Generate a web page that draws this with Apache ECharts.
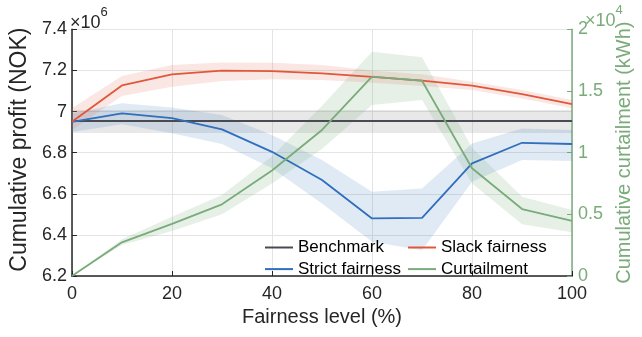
<!DOCTYPE html>
<html><head><meta charset="utf-8">
<script src="https://cdn.jsdelivr.net/npm/echarts@6/dist/echarts.min.js"></script>
<style>html,body{margin:0;padding:0;background:#fff}#c{width:642px;height:337px}</style>
</head><body><div id="c"></div>
<script>
const categories = ['0', '10', '20', '30', '40', '50', '60', '70', '80', '90', '100'];
const profitTicks = [6.2, 6.4, 6.6, 6.8, 7, 7.2, 7.4];
const curtailTicks = [0, 0.5, 1, 1.5, 2];

const benchmark     = [6.954, 6.954, 6.954, 6.954, 6.954, 6.954, 6.954, 6.954, 6.954, 6.954, 6.954];
const benchmarkLow  = [6.895, 6.895, 6.895, 6.895, 6.895, 6.895, 6.895, 6.895, 6.895, 6.895, 6.895];
const benchmarkHigh = [7.008, 7.008, 7.008, 7.008, 7.008, 7.008, 7.008, 7.008, 7.008, 7.008, 7.008];

const slack     = [6.95, 7.127, 7.181, 7.199, 7.197, 7.186, 7.169, 7.15, 7.126, 7.085, 7.036];
const slackLow  = [6.91, 7.075, 7.121, 7.148, 7.157, 7.153, 7.14, 7.124, 7.105, 7.064, 7.016];
const slackHigh = [7.016, 7.173, 7.226, 7.239, 7.237, 7.226, 7.2, 7.181, 7.145, 7.105, 7.056];

const strict     = [6.95, 6.991, 6.968, 6.913, 6.804, 6.667, 6.48, 6.483, 6.748, 6.848, 6.842];
const strictLow  = [6.9, 6.938, 6.894, 6.842, 6.724, 6.553, 6.366, 6.325, 6.658, 6.764, 6.759];
const strictHigh = [6.99, 7.04, 7.02, 6.983, 6.886, 6.764, 6.61, 6.626, 6.845, 6.918, 6.91];

const curtail     = [0, 0.273, 0.422, 0.581, 0.855, 1.184, 1.616, 1.583, 0.873, 0.543, 0.446];
const curtailLow  = [0, 0.251, 0.365, 0.5, 0.75, 1.03, 1.386, 1.427, 0.75, 0.42, 0.354];
const curtailHigh = [0, 0.297, 0.48, 0.657, 0.97, 1.38, 1.818, 1.773, 1.04, 0.643, 0.535];

const C = {bench:'#4a4a55', slack:'#e0583a', strict:'#2f6fbd', curt:'#7aab7a', axis:'#262626', grid:'#e4e4e4'};
const FONT = 'Liberation Sans, Arial, Helvetica, sans-serif';

function band(name, low, high, color, opacity, yAxisIndex){
  return [
    {type:'line', stack:name, yAxisIndex, data:low, symbol:'none', silent:true,
     lineStyle:{opacity:0}, z:1},
    {type:'line', stack:name, yAxisIndex, data:high.map((h,i)=>+(h-low[i]).toFixed(4)), symbol:'none', silent:true,
     lineStyle:{opacity:0}, areaStyle:{color, opacity}, z:1}
  ];
}
function line(name, data, color, yAxisIndex){
  return {type:'line', name, yAxisIndex, data, symbol:'none', showSymbol:false,
    lineStyle:{color, width:1.8}, itemStyle:{color}, z:5};
}

const chart = echarts.init(document.getElementById('c'), null, {renderer:'canvas'});
chart.setOption({
  animation:false,
  textStyle:{fontFamily:FONT},
  grid:{left:68, right:60, top:29.3, bottom:61},
  xAxis:{type:'category', data:categories, boundaryGap:false,
    name:'Fairness level (%)', nameLocation:'middle', nameGap:30,
    nameTextStyle:{fontSize:20, color:C.axis, fontFamily:FONT},
    axisLine:{lineStyle:{color:C.axis, width:1.5}},
    axisTick:{inside:true, length:5, interval:1, lineStyle:{color:C.axis}},
    axisLabel:{fontSize:18, color:C.axis, margin:9, interval:1, fontFamily:FONT},
    splitLine:{show:true, interval:1, lineStyle:{color:C.grid, width:1}}},
  yAxis:[
    {type:'value', min:6.2, max:7.4, interval:0.2, position:'left',
     name:'Cumulative profit (NOK)', nameLocation:'middle', nameGap:36, nameRotate:90,
     nameTextStyle:{fontSize:23, color:C.axis, fontFamily:FONT, padding:[0,0,0,6]},
     axisLine:{show:true, lineStyle:{color:C.axis, width:1.5}},
     axisTick:{show:true, inside:true, length:5, lineStyle:{color:C.axis}},
     axisLabel:{fontSize:18, color:C.axis, margin:5, fontFamily:FONT,
       formatter:v=>String(profitTicks.find(t=>Math.abs(t-v)<1e-6) ?? v)},
     splitLine:{show:true, lineStyle:{color:C.grid, width:1}}},
    {type:'value', min:0, max:2, interval:0.5, position:'right',
     name:'Cumulative curtailment (kWh)', nameLocation:'middle', nameGap:40, nameRotate:90,
     nameTextStyle:{fontSize:20, color:C.curt, fontFamily:FONT},
     axisLine:{show:true, lineStyle:{color:C.curt, width:1.5}},
     axisTick:{show:true, inside:true, length:5, lineStyle:{color:C.curt}},
     axisLabel:{fontSize:18, color:C.curt, margin:6, fontFamily:FONT,
       formatter:v=>String(curtailTicks.find(t=>Math.abs(t-v)<1e-6) ?? v)},
     splitLine:{show:false}}
  ],
  legend:[
    {orient:'vertical', left:260, top:234, itemWidth:28, itemHeight:2, itemGap:4.6, icon:'rect',
     data:['Benchmark','Strict fairness'], textStyle:{fontSize:17, color:'#000', fontFamily:FONT}},
    {orient:'vertical', left:403, top:234, itemWidth:28, itemHeight:2, itemGap:4.6, icon:'rect',
     data:['Slack fairness','Curtailment'], textStyle:{fontSize:17, color:'#000', fontFamily:FONT}}
  ],
  graphic:[
    {type:'text', left:70, top:6, style:{text:'{a|×10}{b|6}', rich:{
      a:{fontSize:18, fill:C.axis, fontFamily:FONT, verticalAlign:'bottom', padding:[8,0,0,0]},
      b:{fontSize:13, fill:C.axis, fontFamily:FONT, verticalAlign:'top'}}}},
    {type:'text', left:585, top:4, style:{text:'{a|×10}{b|4}', rich:{
      a:{fontSize:18, fill:C.curt, fontFamily:FONT, verticalAlign:'bottom', padding:[8,0,0,0]},
      b:{fontSize:13, fill:C.curt, fontFamily:FONT, verticalAlign:'top'}}}}
  ],
  series:[
    ...band('bBand', benchmarkLow, benchmarkHigh, '#8c8c8c', 0.2, 0),
    ...band('sBand', strictLow, strictHigh, C.strict, 0.15, 0),
    ...band('lBand', slackLow, slackHigh, C.slack, 0.15, 0),
    ...band('cBand', curtailLow, curtailHigh, C.curt, 0.18, 1),
    line('Benchmark', benchmark, C.bench, 0),
    line('Strict fairness', strict, C.strict, 0),
    line('Slack fairness', slack, C.slack, 0),
    line('Curtailment', curtail, C.curt, 1)
  ]
});
</script></body></html>
